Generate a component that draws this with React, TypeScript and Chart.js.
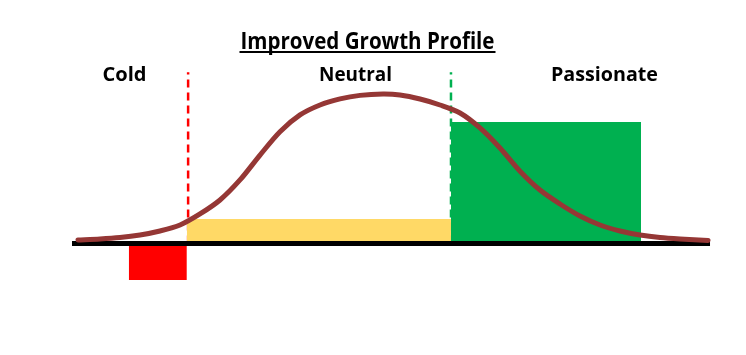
import React, { useEffect, useRef } from "react";
import { Chart, registerables } from "chart.js";

Chart.register(...registerables);

// Bell curve
const curveX = [0.94, 4.39, 7.52, 10.66, 13.79, 16.93, 20.06, 23.2, 26.33, 29.47, 32.6, 35.74, 38.87, 42.01, 45.14, 48.75, 51.41, 54.55, 57.68, 60.82, 63.95, 67.08, 70.22, 73.35, 76.49, 79.62, 82.76, 85.89, 89.03, 92.16, 95.3, 99.69];
const curveY = [2.9, 3.7, 4.9, 7.0, 10.3, 15.2, 24.3, 35.8, 52.3, 72.8, 92.0, 105.8, 114.0, 119.0, 121.9, 123.0, 122.2, 118.9, 114.0, 107.4, 95.1, 78.6, 59.5, 44.0, 32.5, 22.6, 15.2, 10.3, 7.0, 4.9, 3.7, 2.5];

// Zones (Cold / Neutral / Passionate)
const zoneNames = ["Cold", "Neutral", "Passionate"];
const zoneStart = [8.9, 18.0, 59.4];
const zoneEnd = [18.0, 59.4, 89.2];
const zoneValues = [-30, 20.2, 100];
const zoneColors = ["#FF0000", "#FFD966", "#00B050"];

// Divider dashed lines
const dividerX = [18.2, 59.4];
const dividerTop = [141, 141];
const dividerColors = ["#FF0000", "#00B050"];

// Baseline
const baselineX = [0, 100];

const title = "Improved Growth Profile";

const textPlugin = {
  id: "texts",
  afterDraw(chart: any) {
    const ctx = chart.ctx as CanvasRenderingContext2D;
    const drawFit = (text: string, cx: number, baseline: number, size: number, width: number, underline: boolean) => {
      ctx.save();
      ctx.font = `bold ${size}px "Open Sans"`;
      const w = ctx.measureText(text).width;
      const sx = width / w;
      ctx.translate(cx, baseline);
      ctx.scale(sx, 1);
      ctx.fillStyle = "#000";
      ctx.textAlign = "center";
      ctx.textBaseline = "alphabetic";
      ctx.fillText(text, 0, 0);
      ctx.restore();
      if (underline) {
        ctx.save();
        ctx.fillStyle = "#000";
        ctx.fillRect(cx - width / 2 - 1, baseline + 2, width + 2, 2);
        ctx.restore();
      }
    };
    drawFit(title, 367.5, 49, 23, 254, true);
    const centers = [124.5, 355.5, 604.5];
    const widths = [44, 73, 107];
    zoneNames.forEach((n, i) => drawFit(n, centers[i], 81, 20, widths[i], false));
  },
};

export default function App() {
  const ref = useRef<HTMLCanvasElement | null>(null);
  useEffect(() => {
    if (!ref.current) return;
    const datasets: any[] = [];
    datasets.push({
      label: "curve",
      data: curveX.map((x, i) => ({ x, y: curveY[i] })),
      borderColor: "#953735",
      borderWidth: 5,
      pointRadius: 0,
      tension: 0.3,
      borderCapStyle: "round",
      fill: false,
      order: 0,
    });
    datasets.push({
      label: "baseline",
      data: baselineX.map((x) => ({ x, y: 0 })),
      borderColor: "#000000",
      borderWidth: 5,
      pointRadius: 0,
      fill: false,
      order: 1,
    });
    zoneNames.forEach((n, i) => {
      datasets.push({
        label: n,
        data: [
          { x: zoneStart[i], y: zoneValues[i] },
          { x: zoneEnd[i], y: zoneValues[i] },
        ],
        borderColor: "transparent",
        borderWidth: 0,
        backgroundColor: zoneColors[i],
        pointRadius: 0,
        fill: "origin",
        order: 2,
      });
    });
    dividerX.forEach((x, i) => {
      datasets.push({
        label: "divider" + i,
        data: [
          { x, y: 0 },
          { x, y: dividerTop[i] },
        ],
        borderColor: dividerColors[i],
        borderWidth: 2.5,
        borderDash: [8, 5],
        pointRadius: 0,
        fill: false,
        order: 3,
      });
    });
    const chart = new Chart(ref.current, {
      type: "line",
      data: { datasets },
      options: {
        animation: false,
        responsive: false,
        maintainAspectRatio: false,
        layout: { padding: 0 },
        scales: {
          x: { type: "linear", min: -11.285, max: 105.64, display: false },
          y: { type: "linear", min: -91.77, max: 200.41, display: false },
        },
        plugins: {
          legend: { display: false },
          tooltip: { enabled: false },
          title: { display: false },
        },
      },
      plugins: [textPlugin],
    } as any);
    return () => chart.destroy();
  }, []);
  return (
    <div style={{ position: "fixed", left: 0, top: 0, width: 746, height: 355, background: "#fff" }}>
      <canvas ref={ref} width={746} height={355} style={{ display: "block" }} />
    </div>
  );
}
